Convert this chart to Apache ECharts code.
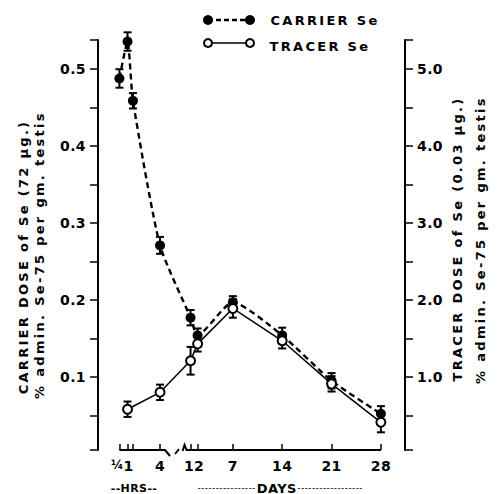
<!DOCTYPE html>
<html>
<head>
<meta charset="utf-8"/>
<title>Se-75 in testis</title>
<script src="https://cdn.jsdelivr.net/npm/echarts@6.0.0/dist/echarts.min.js"></script>
<style>
html, body { margin: 0; padding: 0; background: #fff; }
#main { width: 504px; height: 494px; }
#main text { letter-spacing: 0.4px; }
/* the wide-spaced lettering (titles, legend) is drawn with weight 900 */
#main text[style*="900"] { letter-spacing: 2.3px; }
</style>
</head>
<body>
<div id="main"></div>
<script type="text/javascript">
// time after injection, in hours
var carrierHours = [0.25, 1, 1.5, 4, 24, 48, 168, 336, 504, 672];
var carrierPct   = [0.488, 0.536, 0.459, 0.271, 0.177, 0.154, 0.197, 0.154, 0.095, 0.052];
var carrierErr   = [0.012, 0.012, 0.010, 0.011, 0.010, 0.009, 0.008, 0.010, 0.010, 0.010];

var tracerHours = [1, 4, 24, 48, 168, 336, 504, 672];
var tracerPct   = [0.58, 0.80, 1.21, 1.43, 1.89, 1.47, 0.91, 0.41];
var tracerErr   = [0.10, 0.10, 0.18, 0.10, 0.12, 0.10, 0.10, 0.13];

var xTickHours  = [0.25, 1, 1.5, 4, 24, 48, 168, 336, 504, 672];
var xTickLabels = ['¼', '1', '', '4', '1', '2', '7', '14', '21', '28'];

var leftTicks   = [0.005, 0.05, 0.1, 0.15, 0.2, 0.25, 0.3, 0.35, 0.4, 0.45, 0.5, 0.538];
var leftLabels  = [0.1, 0.2, 0.3, 0.4, 0.5];
var rightTicks  = [0.05, 0.5, 1, 1.5, 2, 2.5, 3, 3.5, 4, 4.5, 5, 5.38];
var rightLabels = [1, 2, 3, 4, 5];

// grid box (x axis runs 0..GW so 1 unit = 1 px)
var GL = 98, GT = 40, GW = 307, GH = 410;
var AXIS_Y = GT + GH;

// broken time scale: hours up to 4 h, then days after the break
var HR_ORIGIN = 18.7, HR_SCALE = 10.83;
var DAY_ORIGIN = 85.5, DAY_SCALE = 7.05;
function xPos(h) {
    return h <= 4 ? HR_ORIGIN + HR_SCALE * h : DAY_ORIGIN + DAY_SCALE * h / 24;
}
function px(h) { return GL + xPos(h); }

// crowded labels get nudged apart with rich padding
var nudge = { 0: 'q', 1: 'r', 4: 'a', 5: 'b' };
var labelOf = {};
for (var i = 0; i < xTickHours.length; i++) {
    var t = xTickLabels[i];
    labelOf[xPos(xTickHours[i]).toFixed(2)] = nudge[i] ? '{' + nudge[i] + '|' + t + '}' : t;
}

var FONT = 'DejaVu Sans';

function pairs(xs, ys) {
    return xs.map(function (h, i) { return [xPos(h), ys[i]]; });
}

function errorBars(xs, ys, es, yIndex) {
    return {
        type: 'custom',
        yAxisIndex: yIndex,
        silent: true,
        z: 2,
        data: xs.map(function (h, i) { return [xPos(h), ys[i], es[i]]; }),
        renderItem: function (params, api) {
            var x = api.value(0), y = api.value(1), e = api.value(2);
            var a = api.coord([x, y + e]), b = api.coord([x, y - e]);
            var hw = 4, st = { stroke: '#000', lineWidth: 2 };
            return {
                type: 'group',
                children: [
                    { type: 'line', shape: { x1: a[0], y1: a[1], x2: b[0], y2: b[1] }, style: st },
                    { type: 'line', shape: { x1: a[0] - hw, y1: a[1], x2: a[0] + hw, y2: a[1] }, style: st },
                    { type: 'line', shape: { x1: b[0] - hw, y1: b[1], x2: b[0] + hw, y2: b[1] }, style: st }
                ]
            };
        }
    };
}

function wideText(txt, x, y, rot, size) {
    return {
        type: 'text', x: x, y: y, rotation: rot || 0,
        style: {
            text: txt, fill: '#000', fontFamily: FONT, fontWeight: 900, fontSize: size || 13,
            align: 'center', verticalAlign: 'middle', textAlign: 'center', textVerticalAlign: 'middle'
        }
    };
}

function labStyle(pad, size) {
    return { fontFamily: FONT, fontWeight: 'bold', fontSize: size || 14, color: '#000', padding: pad };
}

var myChart = echarts.init(document.getElementById('main'), null, { renderer: 'svg' });

var d4 = px(4), d1 = px(24);
var option = {
    animation: false,
    backgroundColor: '#fff',
    grid: { left: GL, top: GT, width: GW, height: GH, outerBoundsMode: 'none' },
    xAxis: {
        type: 'value', min: 0, max: GW,
        axisLine: { show: false },
        splitLine: { show: false },
        axisTick: {
            show: true, inside: true, length: 6,
            lineStyle: { color: '#000', width: 1.5 },
            customValues: xTickHours.map(xPos)
        },
        axisLabel: {
            color: '#000', fontFamily: FONT, fontWeight: 'bold', fontSize: 14, margin: 9,
            showMinLabel: true, showMaxLabel: true, hideOverlap: false,
            customValues: xTickHours.filter(function (h, i) { return xTickLabels[i] !== ''; }).map(xPos),
            formatter: function (v) { return labelOf[v.toFixed(2)] || ''; },
            rich: {
                q: labStyle([0, 4, 0, 0], 12),
                r: labStyle([0, 0, 0, 2]),
                a: labStyle([0, 3, 0, 0]),
                b: labStyle([0, 0, 0, 3])
            }
        }
    },
    yAxis: [
        {
            type: 'value', position: 'left', min: 0.005, max: 0.538,
            splitLine: { show: false },
            axisLine: { show: true, lineStyle: { color: '#000', width: 2 } },
            axisTick: { show: true, length: 8, lineStyle: { color: '#000', width: 1.5 }, customValues: leftTicks },
            axisLabel: {
                color: '#000', fontFamily: FONT, fontWeight: 'bold', fontSize: 14, margin: 12,
                customValues: leftLabels,
                formatter: function (v) { return v.toFixed(1); }
            }
        },
        {
            type: 'value', position: 'right', min: 0.05, max: 5.38,
            splitLine: { show: false },
            axisLine: { show: true, lineStyle: { color: '#000', width: 2 } },
            axisTick: { show: true, length: 8, lineStyle: { color: '#000', width: 1.5 }, customValues: rightTicks },
            axisLabel: {
                color: '#000', fontFamily: FONT, fontWeight: 'bold', fontSize: 14, margin: 12,
                customValues: rightLabels,
                formatter: function (v) { return v.toFixed(1); }
            }
        }
    ],
    series: [
        errorBars(carrierHours, carrierPct, carrierErr, 0),
        errorBars(tracerHours, tracerPct, tracerErr, 1),
        {
            name: 'CARRIER Se', type: 'line', yAxisIndex: 0, z: 3,
            data: pairs(carrierHours, carrierPct),
            smooth: 0.2,
            symbol: 'circle', symbolSize: 10,
            itemStyle: { color: '#000' },
            lineStyle: { color: '#000', width: 2.4, type: [6, 4] }
        },
        {
            name: 'TRACER Se', type: 'line', yAxisIndex: 1, z: 4,
            data: pairs(tracerHours, tracerPct),
            symbol: 'circle', symbolSize: 9,
            itemStyle: { color: '#fff', borderColor: '#000', borderWidth: 2 },
            lineStyle: { color: '#000', width: 1.5 }
        }
    ],
    graphic: [
        // broken time axis
        { type: 'polyline', shape: { points: [[px(0.25), AXIS_Y], [d4 + 5, AXIS_Y], [d4 + 10, AXIS_Y + 6]] },
          style: { stroke: '#000', lineWidth: 2, fill: null } },
        { type: 'line', shape: { x1: d4 + 15, y1: AXIS_Y + 4, x2: d4 + 19, y2: AXIS_Y - 1 },
          style: { stroke: '#000', lineWidth: 2 } },
        { type: 'polyline', shape: { points: [[d1 - 8, AXIS_Y + 1], [d1 - 6, AXIS_Y - 5], [d1 - 4, AXIS_Y], [px(672), AXIS_Y]] },
          style: { stroke: '#000', lineWidth: 2, fill: null } },
        // legend
        { type: 'line', shape: { x1: 208, y1: 20, x2: 250, y2: 20 }, style: { stroke: '#000', lineWidth: 2.5, lineDash: [5, 3] } },
        { type: 'circle', shape: { cx: 208, cy: 20, r: 5 }, style: { fill: '#000' } },
        { type: 'circle', shape: { cx: 250, cy: 20, r: 5 }, style: { fill: '#000' } },
        { type: 'line', shape: { x1: 208, y1: 43, x2: 250, y2: 43 }, style: { stroke: '#000', lineWidth: 1.5 } },
        { type: 'circle', shape: { cx: 208, cy: 43, r: 4 }, style: { fill: '#fff', stroke: '#000', lineWidth: 2 } },
        { type: 'circle', shape: { cx: 250, cy: 43, r: 4 }, style: { fill: '#fff', stroke: '#000', lineWidth: 2 } },
        wideText('CARRIER Se', 325, 20),
        wideText('TRACER Se', 320, 46),
        // axis titles
        wideText('CARRIER DOSE of Se (72 µg.)', 23, 257, Math.PI / 2),
        wideText('% admin. Se-75 per gm. testis', 39, 255, Math.PI / 2),
        wideText('TRACER DOSE of Se (0.03 µg.)', 457, 239, Math.PI / 2),
        wideText('% admin. Se-75 per gm. testis', 480, 240, Math.PI / 2),
        // time unit captions
        {
            type: 'text', x: 134, y: 488,
            style: {
                text: '--HRS--', fill: '#000', fontFamily: FONT, fontWeight: 'bold', fontSize: 11,
                align: 'center', verticalAlign: 'middle', textAlign: 'center', textVerticalAlign: 'middle'
            }
        },
        {
            type: 'text', x: 280, y: 488,
            style: {
                text: '{d|----------------}{s| }{b|DAYS}{s| }{d|------------------}',
                fill: '#000', align: 'center', verticalAlign: 'middle', textAlign: 'center', textVerticalAlign: 'middle',
                rich: {
                    d: { fontFamily: FONT, fontSize: 9, fontWeight: 'normal', fill: '#000' },
                    s: { fontFamily: FONT, fontSize: 9, width: 5 },
                    b: { fontFamily: FONT, fontSize: 13, fontWeight: 'bold', fill: '#000' }
                }
            }
        }
    ]
};

myChart.setOption(option);
</script>
</body>
</html>
